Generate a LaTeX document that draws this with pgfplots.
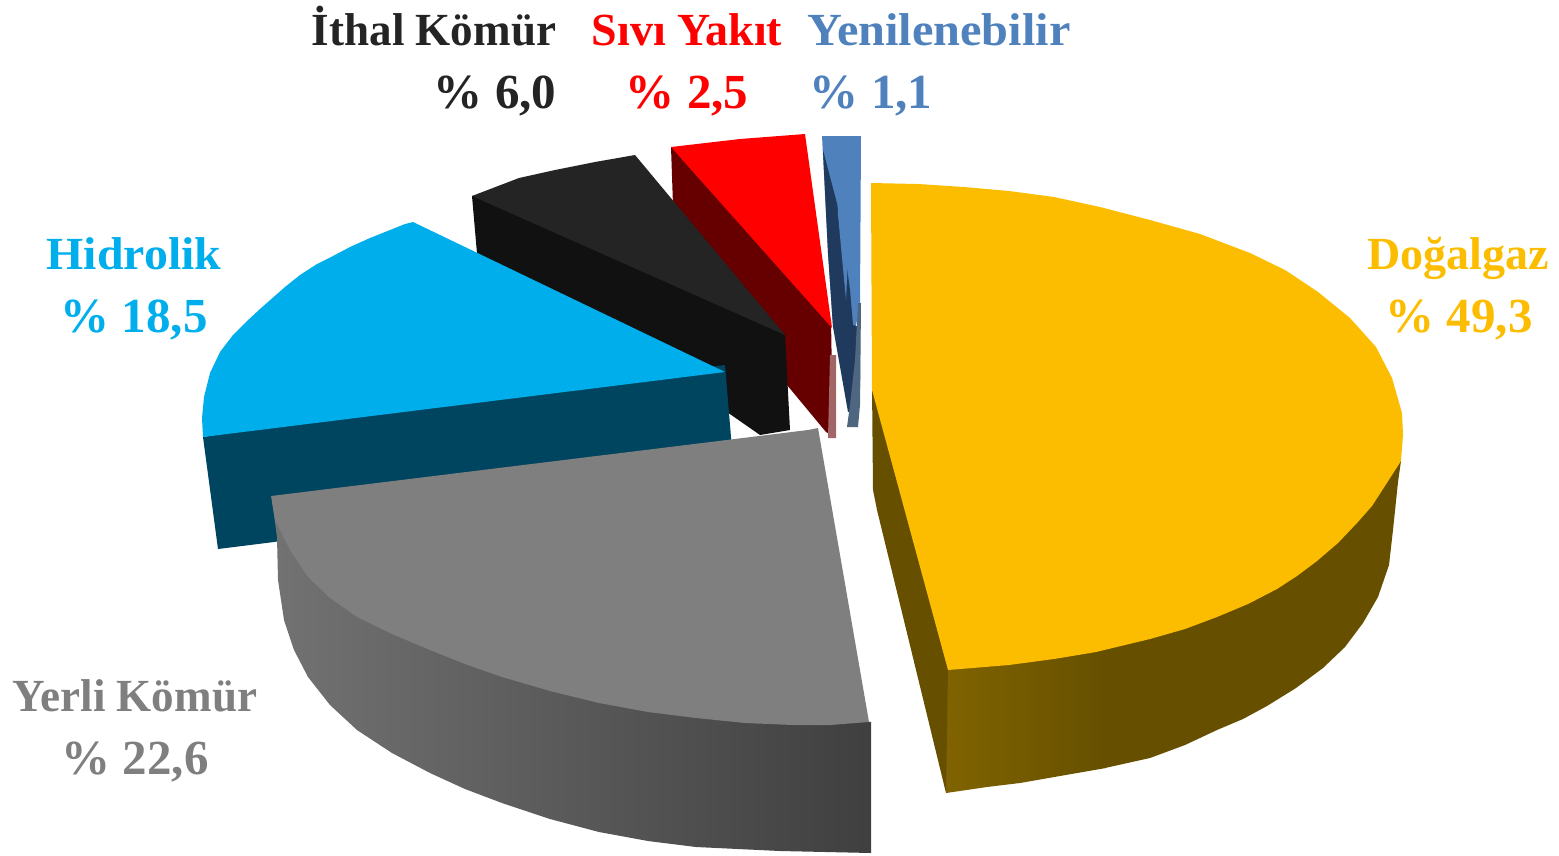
\documentclass[border=0pt]{standalone}
\usepackage{fontspec}
\setmainfont{Liberation Serif}
\usepackage{pgfplots}
\pgfplotsset{compat=1.18}
\definecolor{cYellow}{HTML}{FCBD00}
\definecolor{cYellowD}{HTML}{665000}
\definecolor{cYellowS}{HTML}{806300}
\definecolor{cBlue}{HTML}{00AEEC}
\definecolor{cBlueD}{HTML}{00455F}
\definecolor{cBlack}{HTML}{242424}
\definecolor{cBlackD}{HTML}{111111}
\definecolor{cRed}{HTML}{FF0000}
\definecolor{cRedD}{HTML}{660000}
\definecolor{cGray}{HTML}{7F7F7F}
\definecolor{cRen}{HTML}{4F81BD}
\definecolor{cRenD}{HTML}{1F3A5C}
\definecolor{cRenS}{HTML}{4F6680}
\newcommand{\lab}[5][1]{\node[anchor=base,xscale=#1,text=#2,font=\fontsize{46}{52}\selectfont\bfseries,inner sep=0pt] at (axis cs:#3,#4) {#5};}
\newcommand{\pct}[4]{\node[anchor=base,text=#1,font=\fontsize{49}{56}\selectfont\bfseries,inner sep=0pt] at (axis cs:#2,#3) {#4};}
\begin{document}
\begin{tikzpicture}
\begin{axis}[
    scale only axis,
    width=1559pt, height=855pt,
    xmin=0, xmax=1559, ymin=0, ymax=855,
    y dir=reverse,
    axis lines=none,
    clip=false,
]
\path (rel axis cs:0,0) rectangle (rel axis cs:1,1);
% Sivi Yakit
\addplot[fill=cRedD, draw=none] coordinates {(671,147) (700,150) (831,320) (833,436) (826,432) (787,385) (770,340) (673,205)} -- cycle;
\addplot[fill=cRed, draw=none] coordinates {(671,147) (740,139) (805,134) (832,328)} -- cycle;
\addplot[fill=cRedD!60!white, draw=none] coordinates {(830,355) (836,355) (836,438) (828,438)} -- cycle;
% Ithal Komur
\addplot[fill=cBlackD, draw=none] coordinates {(472,196) (500,195) (770,320) (785,335) (790,430) (760,435) (727,412) (723,385) (478,265)} -- cycle;
\addplot[fill=cBlack, draw=none] coordinates {(472,196) (519,178) (555,170) (595,162) (635,155) (785,335)} -- cycle;
% Yenilenebilir
\addplot[fill=cRen, draw=none] coordinates {(822,136) (861,136) (860,305) (855,330) (833,327) (828,253)} -- cycle;
\addplot[fill=cRenD, draw=none] coordinates {(823,150) (840,215) (850,290) (853,325) (860,327) (860,388) (852,410) (848,412) (833,327) (828,253)} -- cycle;
\addplot[fill=cRen, draw=none] coordinates {(836,160) (848,260) (846,300) (838,215)} -- cycle;
\addplot[fill=cRenS, draw=none] coordinates {(858,303) (861,303) (860,405) (858,427) (847,427) (850,405) (855,360)} -- cycle;
% Hidrolik
\addplot[fill=cBlueD, draw=none] coordinates {(203,437) (400,405) (725,365) (731,437) (731,470) (274,542) (218,549)} -- cycle;
\addplot[fill=cBlue, draw=none] coordinates {(203,437) (202,418) (204,397) (210,373) (220,352) (233,335) (246,322) (260,309) (285,287) (300,275) (317,264) (333,256) (350,247) (370,238) (390,230) (405,224) (413,222) (725,372)} -- cycle;
% Yerli Komur
\addplot[left color=cGray!90!black, right color=cGray!50!black, draw=none] coordinates {(272,500) (277,537) (278,580) (284,620) (294,650) (308,677) (330,705) (357,730) (392,753) (430,773) (465,789) (502,803) (550,819) (599,832) (648,841) (696,847) (780,851) (871,853) (871,722) (793,715) (300,520)} -- cycle;
\addplot[fill=cGray, draw=none] coordinates {(271,496) (808,430) (818,428) (869,722) (830,725) (793,725) (745,723) (696,718) (648,712) (599,703) (550,691) (502,677) (465,664) (430,650) (392,634) (357,617) (330,598) (308,577) (290,550) (275,520)} -- cycle;
% Dogalgaz
\addplot[left color=cYellowS, right color=cYellowD, draw=none] coordinates {(946,793) (987,787) (1020,783) (1060,776) (1106,768) (1106,600) (946,600)} -- cycle;
\addplot[fill=cYellowD, draw=none] coordinates {(1105,768) (1150,758) (1185,745) (1217,730) (1243,719) (1267,706) (1296,688) (1323,668) (1345,647) (1363,623) (1378,597) (1389,565) (1393,530) (1398,482) (1401,461) (1105,500)} -- cycle;
\addplot[fill=cYellowD, draw=none] coordinates {(872,385) (900,430) (955,665) (948,670) (946,793) (877,510) (873,490)} -- cycle;
\addplot[fill=cYellow, draw=none] coordinates {(871,183) (918,184) (964,187) (1009,191) (1054,197) (1100,207) (1150,220) (1200,234) (1250,253) (1285,270) (1318,292) (1350,318) (1376,347) (1392,378) (1402,413) (1403,435) (1401,461) (1383,489) (1372,506) (1357,523) (1338,543) (1317,561) (1297,576) (1277,589) (1248,604) (1217,617) (1185,629) (1150,639) (1096,652) (1054,659) (1009,665) (948,670) (872,390)} -- cycle;
% etiketler
\lab[0.98]{cBlack}{434}{45}{İthal Kömür}
\pct{cBlack}{495}{108}{\% 6,0}
\lab{cRed}{687}{45}{Sıvı Yakıt}
\pct{cRed}{687}{108}{\% 2,5}
\lab[1.05]{cRen}{939}{45}{Yenilenebilir}
\pct{cRen}{871}{108}{\% 1,1}
\lab[1.04]{cBlue}{134}{269}{Hidrolik}
\pct{cBlue}{134}{332}{\% 18,5}
\lab{cYellow}{1458}{269}{Doğalgaz}
\pct{cYellow}{1459}{332}{\% 49,3}
\lab[0.98]{cGray}{135}{711}{Yerli Kömür}
\pct{cGray}{135}{774}{\% 22,6}
\end{axis}
\end{tikzpicture}
\end{document}
